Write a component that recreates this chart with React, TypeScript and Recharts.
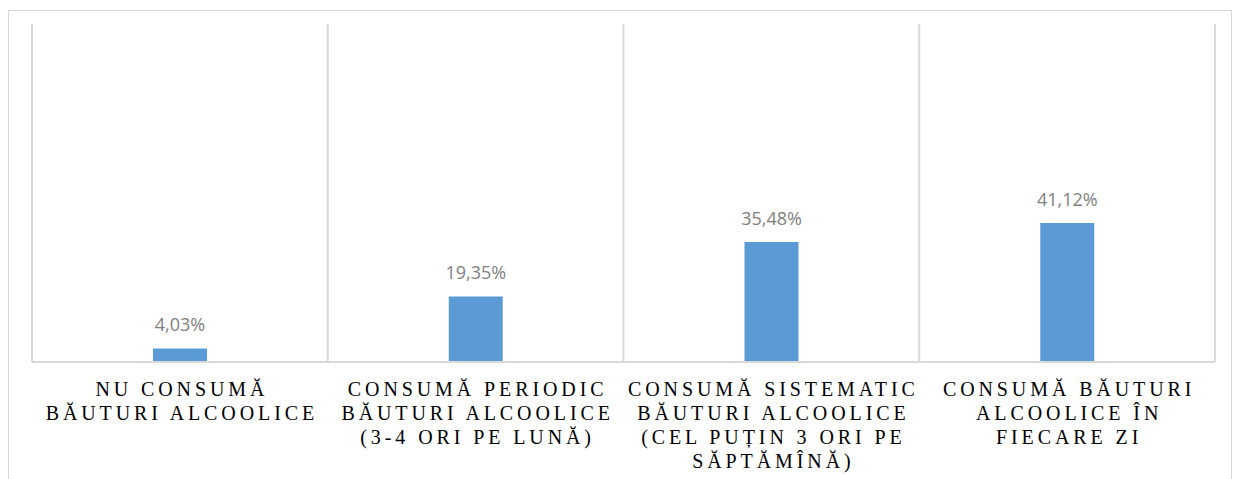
import { BarChart, Bar, XAxis, YAxis, CartesianGrid, LabelList } from 'recharts'

const categories = [
  'NU CONSUMĂ\nBĂUTURI ALCOOLICE',
  'CONSUMĂ PERIODIC\nBĂUTURI ALCOOLICE\n(3-4 ORI PE LUNĂ)',
  'CONSUMĂ SISTEMATIC\nBĂUTURI ALCOOLICE\n(CEL PUȚIN 3 ORI PE\nSĂPTĂMÎNĂ)',
  'CONSUMĂ BĂUTURI\nALCOOLICE ÎN\nFIECARE ZI',
]
const values = [4.03, 19.35, 35.48, 41.12]

const chartData = categories.map((name, i) => ({ name, value: values[i] }))

const GRID = '#d9d9d9'

function CategoryTick({ x, y, payload }: any) {
  const lines = String(payload.value).split('\n')
  return (
    <text
      x={x}
      y={y}
      textAnchor="middle"
      fill="#000"
      style={{ fontFamily: '"Liberation Serif", serif', fontSize: 20, letterSpacing: 3.9 }}
    >
      {lines.map((line, i) => (
        <tspan key={i} x={x + 2} dy={i === 0 ? 25.5 : 24}>
          {line}
        </tspan>
      ))}
    </text>
  )
}

function ValueLabel({ x, y, width, value }: any) {
  return (
    <text
      x={x + width / 2}
      y={y - 17.5}
      textAnchor="middle"
      fill="#7f7f7f"
      style={{ fontFamily: '"Open Sans", sans-serif', fontSize: 18 }}
    >
      {value.toFixed(2).replace('.', ',') + '%'}
    </text>
  )
}

// boundaries between categories instead of lines through the centres
const categoryBounds = ({ offset }: any) =>
  categories.map((_, i) => offset.left + (i * offset.width) / categories.length).concat(offset.left + offset.width)

export default function App() {
  return (
    <div
      style={{
        marginTop: 2,
        width: 1224,
        height: 480,
        boxSizing: 'border-box',
        border: `1px solid ${GRID}`,
        background: '#fff',
      }}
    >
      <BarChart
        width={1222}
        height={468}
        data={chartData}
        margin={{ top: 13, right: 16, left: 23, bottom: 0 }}
      >
        <CartesianGrid
          horizontal={false}
          stroke={GRID}
          strokeWidth={2}
          verticalCoordinatesGenerator={categoryBounds}
        />
        <XAxis
          dataKey="name"
          interval={0}
          height={117}
          tickLine={false}
          axisLine={{ stroke: GRID, strokeWidth: 2 }}
          tick={<CategoryTick />}
        />
        <YAxis hide domain={[0, 100]} />
        <Bar dataKey="value" fill="#5b9bd5" barSize={54} isAnimationActive={false}>
          <LabelList dataKey="value" content={<ValueLabel />} />
        </Bar>
      </BarChart>
    </div>
  )
}
